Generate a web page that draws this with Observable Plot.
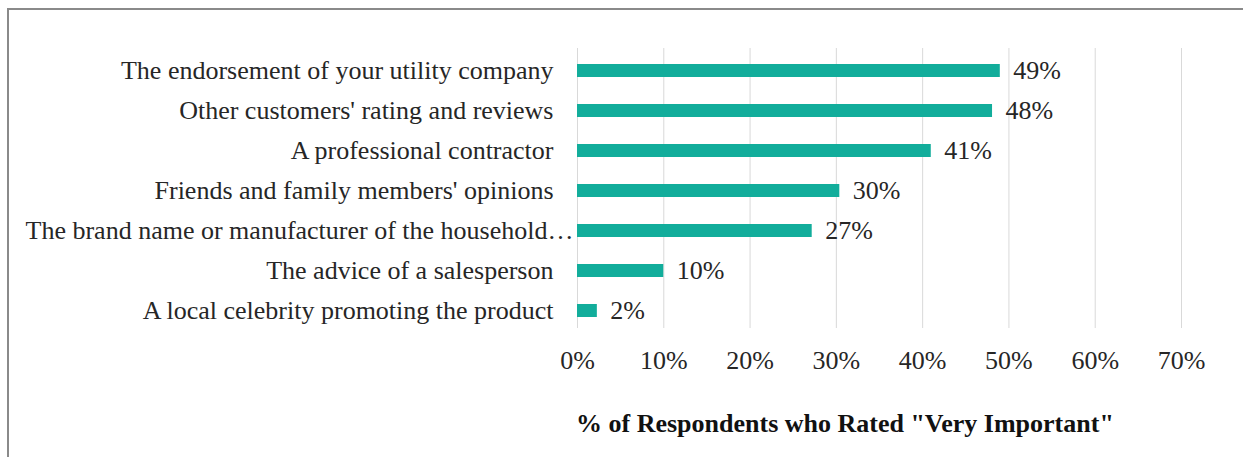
<!DOCTYPE html>
<html><head><meta charset="utf-8">
<script src="https://cdn.jsdelivr.net/npm/d3@7"></script>
<script src="https://cdn.jsdelivr.net/npm/@observablehq/plot@0.6"></script>
<style>
body{margin:0;background:#fff;}
#wrap{position:relative;width:1243px;height:457px;overflow:hidden;font-family:"Liberation Serif","Times New Roman",serif;}
#frame{position:absolute;left:7px;top:8px;right:-10px;bottom:-10px;border-top:2px solid #8a8a8a;border-left:2px solid #8a8a8a;}
#chart{position:absolute;left:0;top:0;}
#title{position:absolute;left:576px;top:407px;font-size:26px;font-weight:bold;line-height:34px;white-space:nowrap;color:#111;}
</style></head><body>
<div id="wrap"><div id="frame"></div><div id="chart"></div><div id="title"></div></div>
<script>
const categories = [
  "The endorsement of your utility company",
  "Other customers' rating and reviews",
  "A professional contractor",
  "Friends and family members' opinions",
  "The brand name or manufacturer of the household…",
  "The advice of a salesperson",
  "A local celebrity promoting the product"
];
const values = [49.0, 48.1, 41.0, 30.4, 27.2, 10.0, 2.3];
const valueLabels = ["49%", "48%", "41%", "30%", "27%", "10%", "2%"];
const xTicks = [0, 10, 20, 30, 40, 50, 60, 70];
const tickLabels = ["0%", "10%", "20%", "30%", "40%", "50%", "60%", "70%"];
const axisTitle = '% of Respondents who Rated "Very Important"';

const ELL = "…";
const data = categories.map((c, i) => ({category: c, value: values[i], label: valueLabels[i]}));
const font = '"Liberation Serif", "Times New Roman", serif';
const plainCats = categories.filter(c => !c.endsWith(ELL));
const truncated = data.filter(d => d.category.endsWith(ELL));

const plot = Plot.plot({
  width: 1243, height: 395,
  marginLeft: 577, marginRight: 62, marginTop: 48, marginBottom: 67,
  style: {fontFamily: font, fontSize: "26px", color: "#262626", background: "transparent"},
  x: {domain: [0, 70]},
  y: {domain: categories, range: [50, 330], paddingInner: 0.675, paddingOuter: 0.3375},
  marks: [
    Plot.gridX(xTicks, {stroke: "#d9d9d9", strokeOpacity: 1, strokeWidth: 1}),
    Plot.axisX(xTicks, {tickSize: 0, tickPadding: 22, tickFormat: d => tickLabels[xTicks.indexOf(d)], label: null, fontSize: 26}),
    Plot.axisY(plainCats, {tickSize: 0, tickPadding: 24, label: null, fontSize: 26}),
    Plot.text(truncated, {x: () => 0, y: "category", text: "category", textAnchor: "end", dx: -4, fontSize: 26, fill: "#262626"}),
    Plot.barX(data, {x: "value", y: "category", fill: "#12AD9B"}),
    Plot.text(data, {x: "value", y: "category", text: "label", textAnchor: "start", dx: 13, fontSize: 26, fill: "#262626"})
  ]
});
document.getElementById("chart").appendChild(plot);
document.getElementById("title").textContent = axisTitle;
</script>
</body></html>
